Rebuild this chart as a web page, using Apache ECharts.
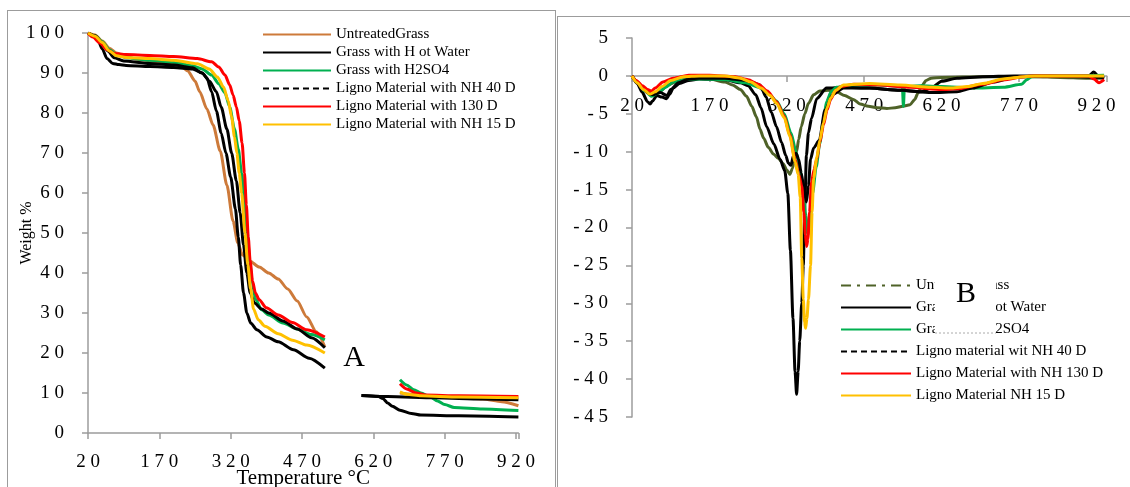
<!DOCTYPE html>
<html>
<head>
<meta charset="utf-8">
<script src="https://cdn.jsdelivr.net/npm/echarts@6.0.0/dist/echarts.min.js"></script>
<style>
  html, body { margin: 0; padding: 0; background: #fff; }
  #wrap { position: relative; width: 1130px; height: 487px; overflow: hidden; }
  .frame { position: absolute; box-sizing: border-box; border: 1.5px solid #9c9c9c; }
  #frameA { left: 7px; top: 10px; width: 549px; height: 520px; }
  #frameB { left: 557px; top: 16px; width: 620px; height: 520px; }
  #chartA { position: absolute; left: 0; top: 0; width: 556px; height: 487px; }
  #chartB { position: absolute; left: 556px; top: 0; width: 574px; height: 487px; }
</style>
</head>
<body>
<div id="wrap">
  <div class="frame" id="frameA"></div>
  <div class="frame" id="frameB"></div>
  <div id="chartA"></div>
  <div id="chartB"></div>
</div>
<script>
// temperature ticks shared by both panels
const tempTicks = [20, 170, 320, 470, 620, 770, 920];

// ---- panel A : TGA, weight % vs temperature ('-' = hidden behind the "A" box)
const namesA = ['UntreatedGrass', 'Grass with H ot Water', 'Grass with H2SO4',
  'Ligno Material with NH 40 D', 'Ligno Material with 130 D', 'Ligno Material with NH 15 D'];

const untreatedA = [[20,100],[35,99.5],[50,98],[65,96.2],[80,95],[100,94],[130,93.3],[170,92.8],[200,92.3],
  [215,91.8],[230,90.5],[245,88],[255,85.3],[270,81],[283,77],[298,70.5],[312,62],[325,53],[335,47.5],
  [345,44.5],[360,43],[380,41.5],[400,40],[420,38.5],[440,36],[460,33],[480,29],[500,25.3],[518,21.5],
  [600,'-'],[676,10],[700,9.7],[740,9.3],[800,9],[850,8.5],[890,7.8],[925,6.8]];
const hotWaterA = [[20,100],[30,99.4],[40,98.5],[50,96],[60,93.6],[72,92.4],[85,92.1],[100,91.9],[150,91.6],
  [200,91.4],[240,91],[260,90],[270,88.8],[280,85.3],[290,80.5],[300,75],[310,70],[320,64],[330,56],
  [336,49],[341,42],[347,35],[354,30],[362,27.5],[375,25.8],[396,24],[420,22.8],[452,20.8],[485,18.7],
  [518,16.2],[560,'-'],[595,9.4],[630,9.2],[640,8.6],[650,7.5],[660,6.7],[676,5.7],[700,4.9],[720,4.5],
  [800,4.3],[925,4]];
const h2so4A = [[20,100],[35,99.3],[50,97.8],[65,95.8],[80,94.6],[100,93.8],[150,93.2],[200,92.7],[240,91.8],
  [260,91],[280,89.5],[295,87.3],[308,85],[318,81.5],[328,76],[336,71],[343,65],[349,58],[355,50],
  [360,43],[365,38],[372,33.5],[385,30.8],[400,29.5],[430,27.5],[460,26],[490,24.6],[518,23.3],
  [600,'-'],[676,13.3],[690,12],[705,10.8],[720,10],[740,9],[755,8],[770,7.1],[790,6.4],[850,6],[925,5.6]];
const nh40A = [[20,100],[35,99.3],[50,97.5],[62,95.5],[75,93.8],[95,93],[150,92.4],[200,92],[240,91.3],
  [260,90],[275,88],[290,85.3],[300,81.5],[312,76],[322,70],[332,63],[340,55],[347,47],[354,40],
  [361,35],[370,32.5],[385,31],[400,30],[430,28],[460,26],[490,23.8],[518,21.3],
  [560,'-'],[595,9.4],[650,9.1],[750,8.8],[850,8.5],[925,8.3]];
const d130A = [[20,100],[30,99],[45,97.5],[60,95.8],[75,94.9],[100,94.6],[150,94.4],[200,94.1],[250,93.6],
  [280,92.8],[295,91.5],[308,89.5],[318,87],[325,84.5],[332,81.5],[338,78],[344,72.5],[349,65],[353,57],
  [357,49],[361,43],[366,38],[372,35],[380,33.3],[395,31.3],[420,29.5],[450,27.6],[480,25.8],[518,24],
  [600,'-'],[676,12.3],[690,11],[710,10],[730,9.5],[800,9.3],[925,9.1]];
const nh15A = [[20,100],[35,99.2],[50,97.6],[65,95.5],[80,94.3],[100,93.9],[150,93.6],[200,93.2],[250,92.3],
  [275,91],[292,89],[305,86.5],[315,83],[322,79],[328,74],[333,70],[338,65],[343,60],[350,50],[356,42],
  [362,36],[368,31],[378,28.3],[392,26.7],[420,24.8],[450,23.2],[480,22],[518,20],
  [600,'-'],[676,10.3],[690,9.7],[720,9.3],[800,9],[925,8.8]];

// ---- panel B : DTG vs temperature
const namesB = ['UntreatedGrass', 'Grass with Hot Water', 'Grass with H2SO4',
  'Ligno material wit NH 40 D', 'Ligno Material with NH 130 D', 'Ligno Material NH 15 D'];

const untreatedB = [[20,0],[35,-1.2],[50,-2.2],[60,-2.6],[75,-2],[90,-1.2],[110,-0.6],[140,-0.3],[170,-0.4],
  [200,-0.8],[215,-1.2],[230,-1.8],[242,-2.7],[252,-4],[261,-5.4],[268,-7],[275,-8.2],[284,-9.4],
  [294,-10.3],[304,-10.9],[313,-11.6],[320,-12.4],[326,-13],[331,-12.2],[335,-11],[339,-10],[343,-8.4],
  [348,-6.7],[355,-5],[362,-3.6],[372,-2.5],[384,-2],[400,-1.9],[417,-2.1],[432,-2.6],[449,-3.1],
  [462,-3.7],[478,-4],[495,-4.2],[514,-4.3],[530,-4.2],[545,-4],[559,-3.8],[568,-3.1],[574,-2.3],
  [582,-1.3],[590,-0.6],[600,-0.3],[620,-0.2],[700,-0.1],[800,-0.1],[850,-0.2],[900,-0.3],[935,-0.3]];
const hotWaterB = [[20,0],[30,-1],[40,-2.2],[50,-3.4],[55,-3.7],[60,-3.3],[68,-2.6],[78,-2.8],[87,-3],
  [93,-2.4],[100,-1.6],[112,-1],[130,-0.6],[150,-0.4],[200,-0.5],[230,-0.9],[245,-1.3],[260,-2.5],
  [270,-4.2],[281,-6.7],[295,-9],[307,-11],[316,-12.5],[322,-15.5],[327,-23],[332,-32],[336,-39],
  [339,-42],[342,-39],[345,-35],[349,-30],[352,-25],[355,-17],[358,-10.5],[362,-7.5],[368,-5.6],
  [378,-3],[397,-1.6],[430,-1.5],[480,-1.6],[540,-1.9],[580,-2.1],[600,-1.6],[620,-0.7],[650,-0.3],
  [700,-0.1],[760,0],[905,0],[915,0.5],[925,-0.1],[935,-0.3]];
const h2so4B = [[20,0],[30,-0.8],[45,-2],[58,-2.7],[70,-2.3],[85,-1.5],[100,-0.8],[130,-0.4],[160,-0.4],
  [200,-0.5],[240,-0.9],[265,-1.5],[285,-2.4],[300,-3.3],[315,-5],[328,-7.5],[338,-10],[346,-12.5],
  [352,-15.3],[357,-18.5],[361,-21],[365,-19.5],[370,-15.5],[377,-12],[384,-8.9],[391,-5.8],[397,-3.4],
  [406,-2.1],[416,-1.5],[450,-1.2],[500,-1.2],[544,-1.4],[546,-4],[548,-1.4],[580,-1.3],[620,-1.4],
  [680,-1.6],[740,-1.5],[775,-1.1],[785,-0.5],[795,-0.1],[850,0],[935,0.1]];
const nh40B = [[20,0],[30,-0.8],[40,-1.5],[50,-2.2],[60,-2.5],[75,-2.2],[88,-2.6],[95,-1.8],[110,-0.9],
  [130,-0.4],[150,-0.3],[200,-0.3],[240,-0.6],[255,-0.9],[268,-1.2],[280,-2.8],[290,-4.8],[300,-6.7],
  [310,-8.8],[318,-10.5],[323,-11.5],[328,-11.8],[333,-10.5],[338,-10.2],[343,-11],[348,-12.8],
  [354,-15.2],[358,-16.6],[362,-14.5],[366,-11],[372,-9.5],[383,-8.5],[394,-4.5],[410,-2.4],[430,-1.6],
  [480,-1.6],[540,-1.9],[600,-2.2],[650,-2.1],[680,-1.6],[720,-0.8],[760,-0.2],[800,0],[935,-0.2]];
const d130B = [[20,0],[28,-0.6],[40,-1.3],[50,-1.8],[58,-2],[65,-1.6],[80,-0.8],[100,-0.3],[130,0.1],
  [170,0.1],[220,-0.1],[245,-0.5],[265,-1.1],[282,-2],[300,-3.4],[315,-5.3],[326,-7.8],[336,-11],
  [343,-13],[349,-14.5],[353,-18],[356,-21],[358.5,-22.5],[361,-21.5],[364,-18],[368,-14],[373,-12.3],
  [378,-11],[384,-8.8],[391,-6.5],[398,-4.5],[405,-3.1],[414,-2],[425,-1.4],[450,-1.1],[500,-1.2],
  [560,-1.5],[620,-1.8],[650,-1.7],[700,-1.1],[740,-0.5],[780,-0.1],[800,0],[905,0],[915,-0.4],
  [925,-0.9],[935,-0.5]];
const nh15B = [[20,0],[30,-0.9],[42,-1.8],[55,-2.4],[65,-2.1],[78,-1.4],[95,-0.6],[120,-0.1],[150,0],
  [200,0],[230,-0.3],[250,-0.8],[270,-1.6],[288,-2.6],[300,-3.6],[315,-5.5],[326,-8],[336,-11.3],
  [342,-13],[346,-16],[349,-24],[352,-29.5],[354.5,-32.5],[356.5,-33.3],[359,-32],[362,-29.5],
  [366,-25],[369,-18],[372,-13.5],[378,-10.8],[384,-8.5],[391,-6.2],[398,-4.2],[405,-2.9],[415,-1.9],
  [430,-1.2],[480,-1],[540,-1.2],[600,-1.5],[640,-1.6],[670,-1.4],[700,-1],[740,-0.4],[780,-0.1],
  [800,0],[935,0]];

const FONT = 'Liberation Serif';
const GREY = '#9c9c9c';
const spaced = v => String(v).split('').join(' ');

function line(name, color, data) {
  return {
    name, type: 'line', data, color,
    symbol: 'none', showSymbol: false, smooth: 0.25, smoothMonotone: 'x',
    connectNulls: false, lineStyle: { width: 3, color }
  };
}

function axisBase() {
  return {
    axisLine: { show: true, lineStyle: { color: GREY, width: 1.5 } },
    axisTick: { show: true, lineStyle: { color: GREY, width: 1.5 }, length: 6 },
    splitLine: { show: false }
  };
}

function tempAxis(max, margin) {
  return Object.assign(axisBase(), {
    type: 'value', min: 20, max, interval: 150,
    axisLabel: {
      margin, fontFamily: FONT, fontSize: 19, color: '#000',
      formatter: v => tempTicks.includes(v) ? spaced(v) : ''
    }
  });
}

function legendFor(names, left, top, gap, width, dashIdx, dashDotIdx) {
  return {
    orient: 'vertical', left, top, padding: 0,
    itemWidth: width, itemHeight: 2, itemGap: gap,
    textStyle: { fontFamily: FONT, fontSize: 15, color: '#000' },
    itemStyle: { opacity: 0 },
    lineStyle: { width: 2 },
    data: names.map((n, i) => {
      if (i === dashIdx) return { name: n, lineStyle: { type: [6, 4], width: 2 } };
      if (i === dashDotIdx) return { name: n, lineStyle: { type: [10, 6, 3, 6], width: 2 } };
      return { name: n };
    })
  };
}

// ---------- chart A
const chartA = echarts.init(document.getElementById('chartA'));
chartA.setOption({
  animation: false,
  grid: { left: 88, right: 37.6, top: 33, bottom: 54, outerBoundsMode: 'none', containLabel: false },
  xAxis: Object.assign(tempAxis(925, 20), {
    name: 'Temperature °C', nameLocation: 'middle', nameGap: 35, nameMoveOverlap: false,
    nameTextStyle: { fontFamily: FONT, fontSize: 21, color: '#000' }
  }),
  yAxis: Object.assign(axisBase(), {
    type: 'value', min: 0, max: 100, interval: 10,
    axisLabel: { margin: 24, fontFamily: FONT, fontSize: 19, color: '#000', formatter: v => spaced(v) },
    name: 'Weight %', nameLocation: 'middle', nameGap: 53, nameMoveOverlap: false,
    nameTextStyle: { fontFamily: FONT, fontSize: 16, color: '#000' }
  }),
  legend: legendFor(namesA, 262, 27, 3, 68, 3, -1),
  series: [
    line(namesA[0], '#CD7A3A', untreatedA),
    line(namesA[1], '#000000', hotWaterA),
    line(namesA[2], '#00B050', h2so4A),
    line(namesA[3], '#000000', nh40A),
    line(namesA[4], '#FF0000', d130A),
    line(namesA[5], '#FFC000', nh15A)
  ],
  graphic: [
    { type: 'text', x: 354, y: 358, z: 100,
      style: { text: 'A', font: '30px "Liberation Serif"', fill: '#000', align: 'center', verticalAlign: 'middle' } }
  ]
});

// ---------- chart B
const gridB = { left: 76, right: 23.3, top: 38, bottom: 70 };
const yMinB = -45, yMaxB = 5;
const plotHeightB = 487 - gridB.top - gridB.bottom;
const chartB = echarts.init(document.getElementById('chartB'));
chartB.setOption({
  animation: false,
  grid: Object.assign({ outerBoundsMode: 'none', containLabel: false }, gridB),
  xAxis: Object.assign(tempAxis(940, 21), {
    position: 'bottom',
    // the temperature axis sits on the zero line of the DTG axis
    offset: -plotHeightB * (0 - yMinB) / (yMaxB - yMinB),
    axisLine: { show: true, onZero: false, lineStyle: { color: GREY, width: 1.5 } }
  }),
  yAxis: Object.assign(axisBase(), {
    type: 'value', min: yMinB, max: yMaxB, interval: 5,
    axisLabel: { margin: 24, fontFamily: FONT, fontSize: 19, color: '#000', formatter: v => spaced(v) }
  }),
  legend: legendFor(namesB, 284, 278, 7, 70, 3, 0),
  series: [
    line(namesB[0], '#4F6228', untreatedB),
    line(namesB[1], '#000000', hotWaterB),
    line(namesB[2], '#00B050', h2so4B),
    line(namesB[3], '#000000', nh40B),
    line(namesB[4], '#FF0000', d130B),
    line(namesB[5], '#FFC000', nh15B)
  ],
  graphic: [
    { type: 'rect', z: 100, shape: { x: 379, y: 272, width: 61, height: 62 }, style: { fill: '#fff' } },
    { type: 'line', z: 101, shape: { x1: 379, y1: 333, x2: 440, y2: 333 },
      style: { stroke: '#aaa', lineWidth: 1, lineDash: [2, 2] } },
    { type: 'text', x: 410, y: 294, z: 101,
      style: { text: 'B', font: '30px "Liberation Serif"', fill: '#000', align: 'center', verticalAlign: 'middle' } }
  ]
});
</script>
</body>
</html>
